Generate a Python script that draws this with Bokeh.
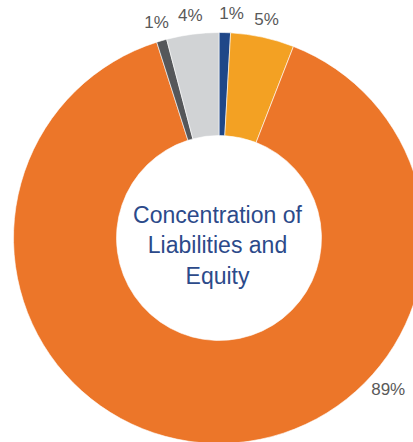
import math
from bokeh.plotting import figure
from bokeh.models import Range1d, ColumnDataSource
from bokeh.core.properties import value
from bokeh.embed import file_html
from bokeh.resources import INLINE

# ---- data ----
categories = ["Blue", "Light orange", "Orange", "Dark grey", "Light grey"]
shares = [0.9, 5.0, 89.2, 0.8, 4.1]
labels = ["1%", "5%", "89%", "1%", "4%"]
colors = ["#1F4788", "#F3A123", "#EC7629", "#55575A", "#D1D3D5"]
center_title = "Concentration of\nLiabilities and\nEquity"

# ---- geometry / style ----
R_OUT = 205.5
R_IN = 102.5
LABEL_R = 224
# label angle overrides (degrees clockwise from 12 o'clock) mimicking the original placement
LABEL_OVERRIDE = {0: (3.2, 225), 2: (131.8, 227)}

total = sum(shares)
starts, ends, lx, ly = [], [], [], []
cum = 0.0
for i, v in enumerate(shares):
    a0 = cum / total * 2 * math.pi
    cum += v
    a1 = cum / total * 2 * math.pi
    starts.append(math.pi / 2 - a0)
    ends.append(math.pi / 2 - a1)
    mid_cw = math.degrees((a0 + a1) / 2)
    r = LABEL_R
    if i in LABEL_OVERRIDE:
        mid_cw, r = LABEL_OVERRIDE[i]
    ang = math.radians(90 - mid_cw)
    lx.append(r * math.cos(ang))
    ly.append(r * math.sin(ang))

src = ColumnDataSource(dict(cat=categories, start=starts, end=ends, color=colors,
                            lx=lx, ly=ly, label=labels))

W, H = 413, 442
cx_screen, cy_screen = 218.5, 237.5
p = figure(width=W, height=H, output_backend="svg", toolbar_location=None,
           x_range=Range1d(-cx_screen, W - cx_screen),
           y_range=Range1d(cy_screen - H, cy_screen),
           min_border=0, outline_line_color=None)
p.axis.visible = False
p.grid.visible = False
p.background_fill_color = "white"
p.border_fill_color = "white"

p.annular_wedge(x=0, y=0, inner_radius=R_IN, outer_radius=R_OUT,
                start_angle="start", end_angle="end", direction="clock",
                fill_color="color", line_color="white", line_width=0.6, source=src)

p.text(x="lx", y="ly", text="label", source=src, text_align="center",
       text_baseline="middle", text_font=value("Liberation Sans"),
       text_font_size="17px", text_color="#595959")

p.text(x=[-1.5], y=[-7.5], text=[center_title], text_align="center",
       text_baseline="middle", text_font=value("Liberation Sans"),
       text_font_size="23px", text_color="#2C4A8A", text_line_height=1.18)

open("out.html", "w").write(file_html(p, INLINE))
